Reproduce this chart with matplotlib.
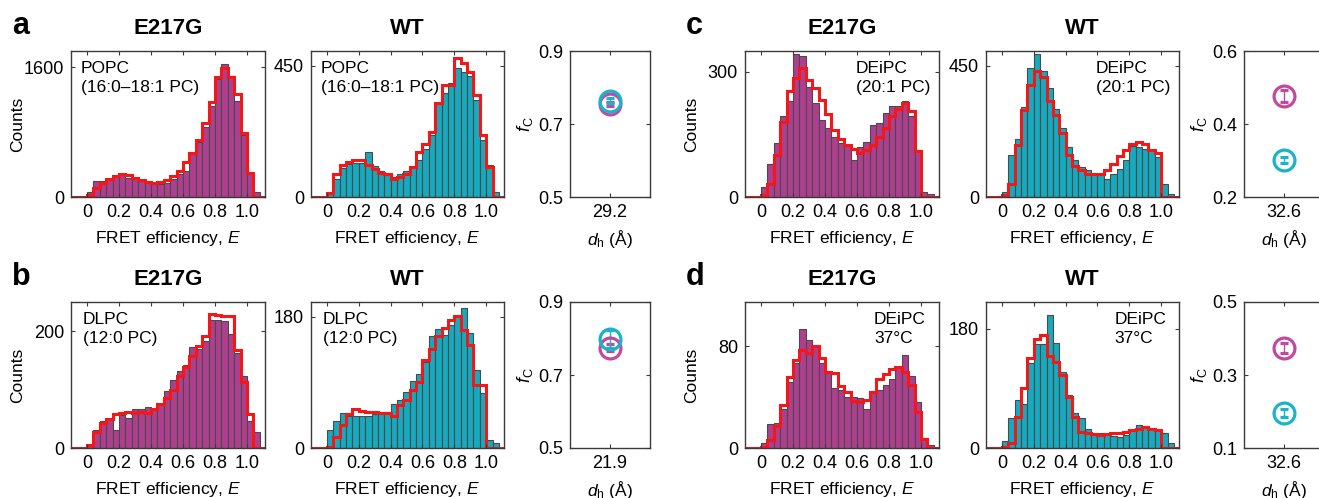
import matplotlib
matplotlib.use("Agg")
import matplotlib.pyplot as plt
import numpy as np

plt.rcParams['font.family'] = ['Liberation Sans', 'DejaVu Sans']
plt.rcParams['mathtext.fontset'] = 'custom'
plt.rcParams['mathtext.rm'] = 'Liberation Sans'
plt.rcParams['mathtext.it'] = 'Liberation Sans:italic'

# FRET efficiency histograms, 27 bins of width 0.04 starting at E = 0
bin_width = 0.04
n_bins = 27

a_e217g_counts = [59, 197, 197, 226, 247, 268, 239, 218, 197, 176, 163, 155, 176, 218, 281,
                  323, 532, 679, 867, 1119, 1454, 1634, 1496, 1182, 763, 281, 59]
a_e217g_fit = [30, 113, 176, 218, 260, 281, 268, 239, 210, 189, 176, 189, 205, 260, 323,
               427, 540, 708, 909, 1169, 1475, 1588, 1475, 1265, 783, 302, 0]
a_wt_counts = [11, 63, 101, 112, 117, 115, 155, 105, 89, 74, 69, 78, 89, 103, 126,
               163, 212, 321, 355, 389, 441, 429, 414, 332, 195, 109, 17]
a_wt_fit = [14, 78, 108, 120, 128, 128, 109, 97, 82, 78, 63, 69, 80, 103, 155,
            183, 223, 321, 384, 384, 475, 459, 429, 349, 212, 103, 0]

b_e217g_counts = [5, 30, 47, 49, 31, 56, 52, 66, 66, 71, 67, 73, 98, 116, 132,
                  142, 173, 170, 184, 219, 219, 218, 196, 162, 124, 47, 27]
b_e217g_fit = [5, 27, 42, 50, 59, 60, 62, 60, 62, 60, 67, 75, 85, 99, 124,
               139, 157, 174, 191, 229, 227, 226, 226, 167, 113, 59, 0]
b_wt_counts = [24, 37, 48, 44, 44, 44, 44, 47, 48, 49, 60, 66, 77, 92, 101,
               118, 153, 163, 155, 169, 182, 192, 157, 107, 75, 11, 7]
b_wt_fit = [1, 15, 31, 47, 54, 51, 49, 49, 48, 48, 44, 59, 66, 79, 91,
            121, 136, 153, 164, 175, 181, 162, 141, 86, 86, 0, 0]

c_e217g_counts = [24, 80, 129, 193, 229, 342, 339, 264, 225, 185, 165, 143, 130, 122, 88,
                  121, 133, 173, 177, 201, 217, 217, 229, 195, 113, 12, 8]
c_e217g_fit = [4, 30, 100, 180, 255, 285, 310, 280, 262, 232, 200, 160, 138, 125, 114,
               106, 112, 125, 145, 165, 195, 212, 225, 205, 110, 0, 0]
c_wt_counts = [17, 143, 197, 309, 441, 490, 433, 372, 303, 235, 172, 128, 103, 92, 80,
               74, 60, 80, 97, 126, 174, 172, 163, 160, 137, 46, 11]
c_wt_fit = [6, 46, 177, 298, 384, 432, 410, 330, 281, 218, 143, 105, 92, 80, 78,
            80, 92, 114, 140, 160, 181, 189, 183, 160, 150, 0, 0]

d_e217g_counts = [4, 19, 20, 31, 52, 67, 94, 85, 81, 67, 59, 47, 46, 40, 40,
                  39, 31, 44, 46, 50, 54, 64, 73, 57, 36, 7, 2]
d_e217g_fit = [1, 6, 17, 34, 56, 69, 77, 75, 80, 71, 60, 59, 49, 44, 37,
               36, 38, 44, 54, 58, 62, 64, 60, 50, 28, 7, 0]
d_wt_counts = [11, 45, 72, 66, 128, 157, 157, 200, 158, 115, 80, 52, 45, 29, 23,
               22, 19, 18, 16, 19, 27, 34, 33, 29, 27, 23, 8]
d_wt_fit = [2, 7, 47, 90, 136, 164, 171, 138, 130, 110, 77, 47, 24, 22, 21,
            19, 21, 22, 23, 24, 27, 29, 32, 29, 27, 0, 0]

# f_C vs d_h summary values
dh_values = [29.2, 21.9, 32.6, 32.6]
fc_e217g = [0.755, 0.775, 0.476, 0.374]
fc_e217g_err = [0.006, 0.010, 0.016, 0.015]
fc_wt = [0.764, 0.798, 0.302, 0.195]
fc_wt_err = [0.006, 0.025, 0.008, 0.011]
fc_ylims = [(0.5, 0.9), (0.5, 0.9), (0.2, 0.6), (0.1, 0.5)]

lipid_labels = ['POPC\n(16:0\u201318:1 PC)', 'DLPC\n(12:0 PC)', 'DEiPC\n(20:1 PC)', 'DEiPC\n37\u00b0C']
label_x = [0.05, 0.06, 0.57, 0.665]
y_tops = [(1600, 450), (200, 180), (300, 450), (80, 180)]
y_lims = [(1800, 500), (250, 200), (350, 500), (115, 220)]
panel_letters = ['a', 'b', 'c', 'd']

magenta = '#AE3F8E'
teal = '#17A9BE'
circ_magenta = '#C14A9F'
circ_cyan = '#19B3CA'
frame_col = '#3a3a3a'

W, H = 1319, 498
fig = plt.figure(figsize=(W / 100, H / 100), dpi=100)


def box(left, top, width, height):
    return fig.add_axes([left / W, 1 - (top + height) / H, width / W, height / H])


def style(ax):
    for s in ax.spines.values():
        s.set_color(frame_col)
        s.set_linewidth(1.0)
    ax.tick_params(direction='in', length=3, width=0.8, color=frame_col,
                   top=True, right=True, labelsize=13, pad=5)


def histogram(ax, counts, fit, color, ytop, ylim, label, lx, title, ylabel):
    edges = np.arange(n_bins + 1) * bin_width
    ax.bar(edges[:-1], counts, width=bin_width, align='edge', color=color,
           edgecolor='#4a4a4a', linewidth=0.8)
    fit_edges = np.concatenate([[-0.2], edges, [1.2]])
    fit_vals = np.concatenate([[0], fit, [0]])
    ax.stairs(fit_vals, fit_edges, color='#F21818', linewidth=2.2, baseline=None)
    ax.set_xlim(-0.1, 1.112)
    ax.set_ylim(0, ylim)
    ax.set_xticks([0, 0.2, 0.4, 0.6, 0.8, 1.0])
    ax.set_xticklabels(['0', '0.2', '0.4', '0.6', '0.8', '1.0'])
    ax.set_yticks([0, ytop])
    ax.set_xlabel('FRET efficiency, $E$', fontsize=12.5, labelpad=6)
    if ylabel:
        ax.set_ylabel('Counts', fontsize=12.5)
        ax.yaxis.set_label_coords(-0.235, 0.5)
    ax.set_title(title, fontsize=16, fontweight='bold', pad=12)
    ax.text(lx, 0.93, label, transform=ax.transAxes, ha='left', va='top',
            fontsize=12.5, linespacing=1.3)
    style(ax)


def summary(ax, i):
    x = dh_values[i]
    ax.errorbar([x], [fc_e217g[i]], yerr=[fc_e217g_err[i]], fmt='o', mfc='none',
                mec=circ_magenta, ms=15, mew=2.3, ecolor=circ_magenta,
                elinewidth=1, capsize=3, capthick=1)
    ax.errorbar([x], [fc_wt[i]], yerr=[fc_wt_err[i]], fmt='o', mfc='none',
                mec=circ_cyan, ms=15, mew=2.3, ecolor=circ_cyan,
                elinewidth=1, capsize=3, capthick=1)
    ax.set_xlim(x - 1, x + 1)
    ax.set_xticks([x])
    ax.set_xticklabels(['%.1f' % x])
    lo, hi = fc_ylims[i]
    ax.set_ylim(lo, hi)
    ax.set_yticks([lo, (lo + hi) / 2, hi])
    ax.set_yticklabels(['%.1f' % v for v in [lo, (lo + hi) / 2, hi]])
    ax.set_xlabel('$d_{\\mathrm{h}}$ (\u00c5)', fontsize=12.5, labelpad=5)
    ax.set_ylabel('$f_{\\mathrm{C}}$', fontsize=13, labelpad=2)
    style(ax)


col_lefts = [(71, 311, 570), (745, 986, 1244)]
row_tops = [51, 302]
hist_data = [(a_e217g_counts, a_e217g_fit, a_wt_counts, a_wt_fit),
             (b_e217g_counts, b_e217g_fit, b_wt_counts, b_wt_fit),
             (c_e217g_counts, c_e217g_fit, c_wt_counts, c_wt_fit),
             (d_e217g_counts, d_e217g_fit, d_wt_counts, d_wt_fit)]
letter_pos = [(12, 34), (12, 285), (686, 34), (686, 285)]

for i in range(4):
    col = col_lefts[0] if i in (0, 1) else col_lefts[1]
    top = row_tops[0] if i in (0, 2) else row_tops[1]
    ce, fe, cw, fw = hist_data[i]
    ax1 = box(col[0], top, 194, 146)
    histogram(ax1, ce, fe, magenta, y_tops[i][0], y_lims[i][0], lipid_labels[i],
              label_x[i], 'E217G', True)
    ax2 = box(col[1], top, 193, 146)
    histogram(ax2, cw, fw, teal, y_tops[i][1], y_lims[i][1], lipid_labels[i],
              label_x[i], 'WT', False)
    ax3 = box(col[2], top, 80, 146)
    summary(ax3, i)
    lx, ly = letter_pos[i]
    fig.text(lx / W, 1 - ly / H, panel_letters[i], fontsize=22, fontweight='bold',
             ha='left', va='baseline')

fig.savefig('out.png', dpi=100)
